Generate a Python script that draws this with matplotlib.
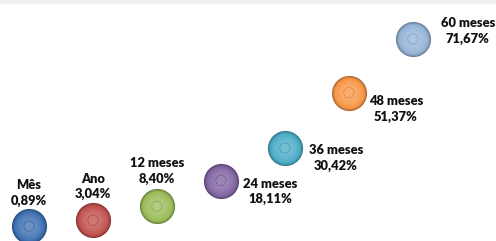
import numpy as np
import matplotlib.pyplot as plt
from matplotlib.colors import to_rgb

periodos = ["Mês", "Ano", "12 meses", "24 meses", "36 meses", "48 meses", "60 meses"]
valores = [0.89, 3.04, 8.40, 18.11, 30.42, 51.37, 71.67]
rotulos = ["0,89%", "3,04%", "8,40%", "18,11%", "30,42%", "51,37%", "71,67%"]

cores = ["#3f70b2", "#c0504d", "#9bbb59", "#8064a2", "#4bacc6", "#f79646", "#95b3d7"]
# label offsets in pixels (x, y) relative to each bubble
offsets = [(0, 33), (0, 34), (0, 35), (49, -11), (51, -10), (47, -16), (55, 8)]


def mix(c, other, t):
    c = np.array(to_rgb(c))
    return tuple(c + (np.array(other) - c) * t)


fig = plt.figure(figsize=(4.96, 2.41), dpi=100)
ax = fig.add_axes([0, 0, 1, 1])
ax.set_xlim(-0.453, 7.30)
ax.set_ylim(-4.77, 86.45)
ax.axis("off")

# thin grey band on top
fig.patches.append(plt.Rectangle((0, 0.988), 1, 0.012, transform=fig.transFigure,
                                 color="#f0f0f0", zorder=0))

x = np.arange(len(periodos))
base = 640
for i, (xv, yv, c) in enumerate(zip(x, valores, cores)):
    n = 16
    for k in range(n):
        t = k / (n - 1)
        s = base * (1 - t * 0.92)
        if t < 0.3:
            col = mix(c, (0, 0, 0), 0.3 * (1 - t / 0.3))
        else:
            col = mix(c, (1, 1, 1), 0.22 * (t - 0.3) / 0.7)
        ax.scatter(xv, yv, s=s, color=col, linewidths=0, zorder=3 + k * 0.01)
    ax.scatter(xv, yv, s=55, facecolor="none", edgecolor=mix(c, (0, 0, 0), 0.12),
               linewidths=0.6, alpha=0.8, zorder=4)

    dx, dy = offsets[i]
    ax.annotate(f"{periodos[i]}\n{rotulos[i]}", (xv, yv), xytext=(dx, dy),
                textcoords="offset pixels", ha="center", va="center",
                fontsize=9.3, fontweight="heavy", family="Lato", color="#111111",
                linespacing=1.35, zorder=5)

plt.savefig("out.png", dpi=100)
